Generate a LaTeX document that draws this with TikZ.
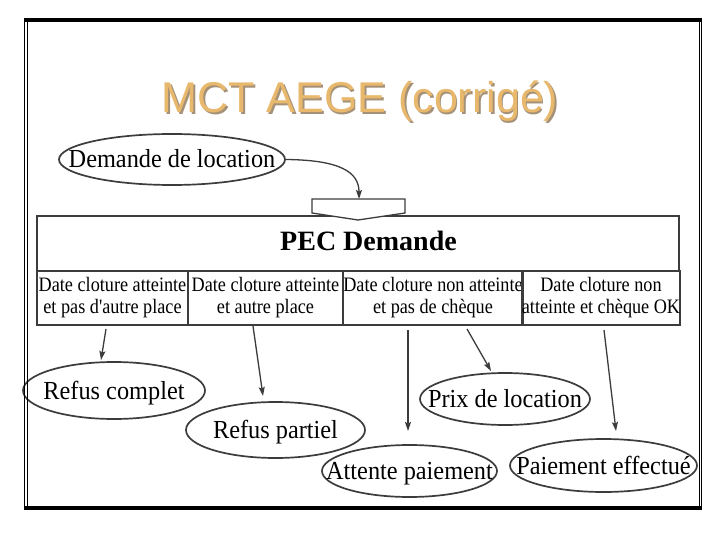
\documentclass[tikz,border=0pt]{standalone}
\usepackage{fontspec}
\setmainfont{Liberation Serif}
\newfontfamily\titlefont{Liberation Sans}
\newfontfamily\ellfont[FakeStretch=0.935]{Liberation Serif}
\newfontfamily\cellfont[FakeStretch=0.888]{Liberation Serif}
\usetikzlibrary{arrows.meta,shapes.geometric}
\definecolor{titlecol}{RGB}{232,184,108}
\definecolor{shadowcol}{RGB}{165,145,120}
\definecolor{linecol}{RGB}{60,60,60}
\newcommand\ztxt[1]{\makebox[0pt]{#1}}
\newcommand\shadowtxt[1]{\rlap{\hspace{1.8pt}\raisebox{-1.8pt}{\textcolor{shadowcol}{#1}}}\textcolor{titlecol}{#1}}
\begin{document}
\begin{tikzpicture}[x=1pt,y=-1pt,
  ell/.style={draw=linecol, line width=1.7pt, fill=white, ellipse, inner sep=0pt,
    font=\ellfont\fontsize{26}{28}\selectfont, text height=17pt, text depth=0pt},
  cell/.style={draw=linecol, line width=1.6pt, inner sep=0pt, minimum height=54pt,
    align=center, font=\cellfont\fontsize{20.5}{22}\selectfont},
  arr/.style={draw=linecol, line width=1.3pt, -{Stealth[length=9pt,width=6pt,inset=1.5pt]}},
  titlestyle/.style={font=\titlefont\fontsize{43}{45}\selectfont, anchor=base, inner sep=0pt}]
\useasboundingbox (0,0) rectangle (720,540);
\fill[white] (0,0) rectangle (720,540);

% title
\node[titlestyle] (title) at (360,113) {\shadowtxt{MCT AEGE (corrigé)}};

% table
\node[draw=linecol, line width=1.6pt, minimum width=642pt, minimum height=55pt, inner sep=0pt] (pecbox) at (358,243.5) {};
\node[font=\bfseries\fontsize{28}{30}\selectfont, anchor=base, inner sep=0pt] (pec) at (368.5,250) {PEC Demande};
\node[cell, minimum width=151pt] (c1) at (112.5,298) {Date cloture atteinte\\et pas d'autre place};
\node[cell, minimum width=155pt] (c2) at (265.5,298) {Date cloture atteinte\\et autre place};
\node[cell, minimum width=180pt] (c3) at (433,298) {Date cloture non atteinte\\et pas de chèque};
\node[cell, minimum width=156pt] (c4) at (601,298) {Date cloture non\\atteinte et chèque OK};

% flag
\draw[draw=linecol, line width=1.3pt, fill=white] (312,199) -- (405,199) -- (405,213) -- (358,220) -- (312,213) -- cycle;
\coordinate (flagtop) at (359,199);

% ellipses
\node[ell, minimum width=226pt, minimum height=51pt] (dem) at (172,159.5) {\ztxt{Demande de location}};
\node[ell, minimum width=182pt, minimum height=57pt] (rc) at (114,390.5) {\ztxt{Refus complet}};
\node[ell, minimum width=179pt, minimum height=56pt] (rp) at (275.5,430) {\ztxt{Refus partiel}};
\node[ell, minimum width=170pt, minimum height=52pt] (prix) at (505,399) {\ztxt{Prix de location}};
\node[ell, minimum width=175pt, minimum height=52pt] (att) at (409.5,471) {\ztxt{Attente paiement}};
\node[ell, minimum width=187pt, minimum height=53pt] (pay) at (603.5,465.5) {\ztxt{Paiement effectué}};

% connectors
\draw[arr] (dem.east) .. controls (340,160) and (359,172) .. (flagtop);
\coordinate (s1) at (106,329); \coordinate (e1) at (101,360);
\coordinate (s2) at (253,326); \coordinate (e2) at (263,396);
\coordinate (s3) at (408,330); \coordinate (e3) at (408,431);
\coordinate (s4) at (467,329); \coordinate (e4) at (491,371);
\coordinate (s5) at (604,330); \coordinate (e5) at (616,431);
\draw[arr] (s1) -- (e1);
\draw[arr] (s2) -- (e2);
\draw[arr] (s3) -- (e3);
\draw[arr] (s4) -- (e4);
\draw[arr] (s5) -- (e5);

% frame
\fill[black] (24,18) rectangle (702,22);
\fill[black] (24,506) rectangle (702,510);
\draw[black, line width=1pt] (24.5,18) -- (24.5,510);
\draw[black, line width=1pt] (27,22) -- (27,506);
\draw[black, line width=1pt] (701.5,18) -- (701.5,510);
\draw[black, line width=1pt] (699,22) -- (699,506);
\end{tikzpicture}
\end{document}
